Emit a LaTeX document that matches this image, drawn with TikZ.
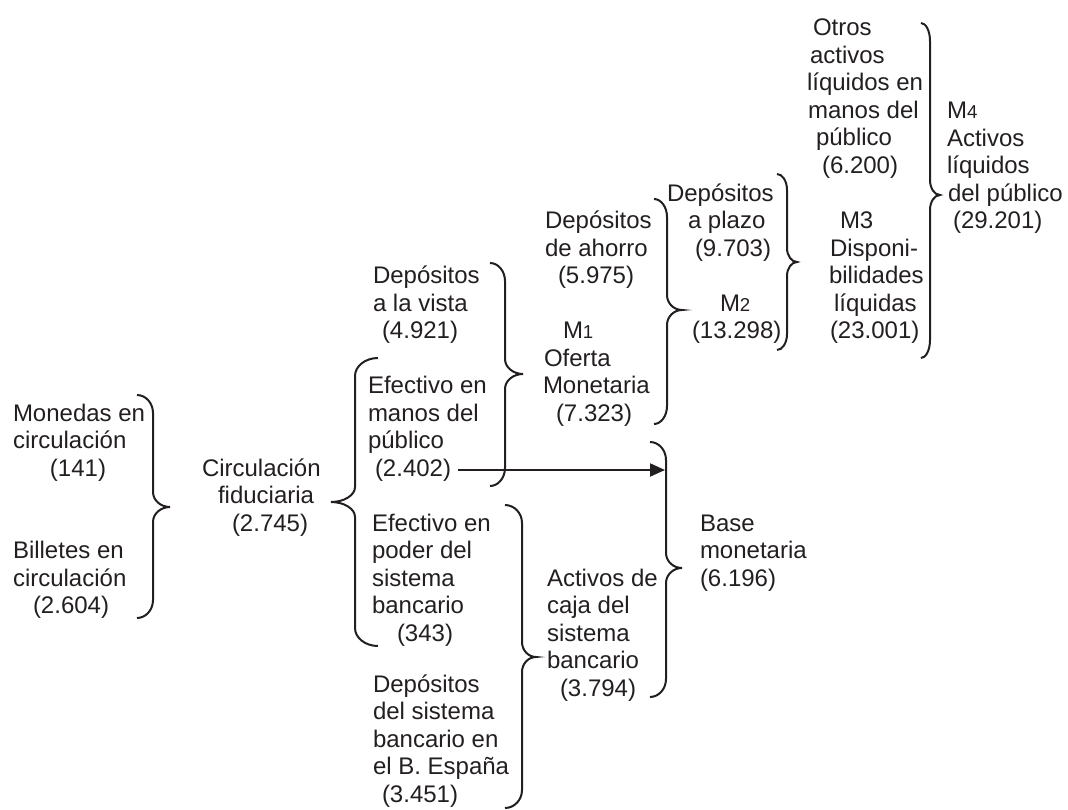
\documentclass[tikz,border=0pt]{standalone}
\usepackage{fontspec}
\setmainfont{Liberation Sans}
\usetikzlibrary{arrows.meta}
\newlength\pxu
\setlength\pxu{0.75pt}
\definecolor{ink}{RGB}{35,31,32}
% stacked, left-aligned lines whose reference point is the first baseline
\newcommand\lns[1]{\vtop{\halign{##\hfil\cr#1\crcr}}}
% smaller digit after M in the aggregate names
\newcommand\mnum[1]{{\fontsize{14}{14}\selectfont #1}}
% curly brace: hook x, stem x, tip x, top y, tip y, bottom y, hook radius, tip radius
\newcommand\drawbrace[8]{%
  \draw[brace] (#1,#4) .. controls ({#1+0.55*(#2-#1)},#4) and (#2,{#4+0.45*#7}) .. (#2,{#4+#7})
    -- (#2,{#5-#8}) .. controls (#2,{#5-0.45*#8}) and ({#3-0.55*(#3-#2)},#5) .. (#3,#5)
    .. controls ({#3-0.55*(#3-#2)},#5) and (#2,{#5+0.45*#8}) .. (#2,{#5+#8})
    -- (#2,{#6-#7}) .. controls (#2,{#6-0.45*#7}) and ({#1+0.55*(#2-#1)},#6) .. (#1,#6);}
\begin{document}
\begin{tikzpicture}[x=0.75pt,y=-0.75pt,
  txt/.style={anchor=base west, inner sep=0pt, outer sep=0pt, text=ink,
    font=\fontsize{18}{20.625}\selectfont},
  brace/.style={draw=ink, line width=1.5pt},
  conn/.style={draw=ink, line width=1.5pt, -{Triangle[length=11.25pt,width=9.75pt]}}]
\useasboundingbox (0,0) rectangle (1068,810);

% text blocks
\node[txt] (monedas) at (13,421) {\lns{Monedas en\cr circulación\cr\kern37\pxu(141)}};
\node[txt] (billetes) at (13,558.5) {\lns{Billetes en\cr circulación\cr\kern20\pxu(2.604)}};
\node[txt] (circ) at (202,476) {\lns{Circulación\cr\kern16\pxu fiduciaria\cr\kern30\pxu(2.745)}};
\node[txt] (dvista) at (373,283.5) {\lns{Depósitos\cr a la vista\cr\kern9\pxu(4.921)}};
\node[txt] (emanos) at (368,393.5) {\lns{Efectivo en\cr manos del\cr público\cr\kern7\pxu(2.402)}};
\node[txt] (epoder) at (372,531) {\lns{Efectivo en\cr poder del\cr sistema\cr bancario\cr\kern25\pxu(343)}};
\node[txt] (dsist) at (373,692) {\lns{Depósitos\cr del sistema\cr bancario en\cr el B. España\cr\kern9\pxu(3.451)}};
\node[txt] (activos) at (547,586) {\lns{Activos de\cr caja del\cr sistema\cr bancario\cr\kern13\pxu(3.794)}};
\node[txt] (base) at (700,531) {\lns{Base\cr monetaria\cr(6.196)}};
\node[txt] (dahorro) at (545,228.5) {\lns{Depósitos\cr de ahorro\cr\kern13\pxu(5.975)}};
\node[txt] (m1) at (543,338.5) {\lns{\kern20\pxu M\mnum{1}\cr\kern1\pxu Oferta\cr Monetaria\cr\kern13\pxu(7.323)}};
\node[txt] (dplazo) at (667,201) {\lns{Depósitos\cr\kern21\pxu a plazo\cr\kern28\pxu(9.703)}};
\node[txt] (m2) at (692,311) {\lns{\kern28\pxu M\mnum{2}\cr(13.298)}};
\node[txt] (m3) at (829,228.5) {\lns{\kern11\pxu M3\cr\kern1\pxu Disponi-\cr bilidades\cr\kern5\pxu líquidas\cr\kern1\pxu(23.001)}};
\node[txt] (otros) at (807,36) {\lns{\kern6\pxu Otros\cr\kern3\pxu activos\cr líquidos en\cr\kern1\pxu manos del\cr\kern9\pxu público\cr\kern15\pxu(6.200)}};
\node[txt] (m4) at (947,118.5) {\lns{M\mnum{4}\cr Activos\cr líquidos\cr\kern1\pxu del público\cr\kern6\pxu(29.201)}};

% braces
\drawbrace{137}{153}{170}{395}{507}{618}{18}{15}
\drawbrace{378}{355}{331}{358}{502}{646}{18}{15}
\drawbrace{490}{505}{523}{263}{374}{486}{18}{15}
\drawbrace{650}{666}{682}{442}{568}{697}{18}{15}
\drawbrace{505}{522}{536}{505}{657}{808}{18}{15}
\drawbrace{654}{667}{682}{199}{310}{424}{18}{15}
\drawbrace{777}{787}{797}{174}{262}{350}{16}{14}
\drawbrace{921}{930}{940}{23}{195}{358}{18}{15}

% currency held by the public also feeds the monetary base
\coordinate (arrS) at (458,470);
\coordinate (arrE) at (665,470);
\draw[conn] (arrS) -- (arrE);
\end{tikzpicture}
\end{document}
